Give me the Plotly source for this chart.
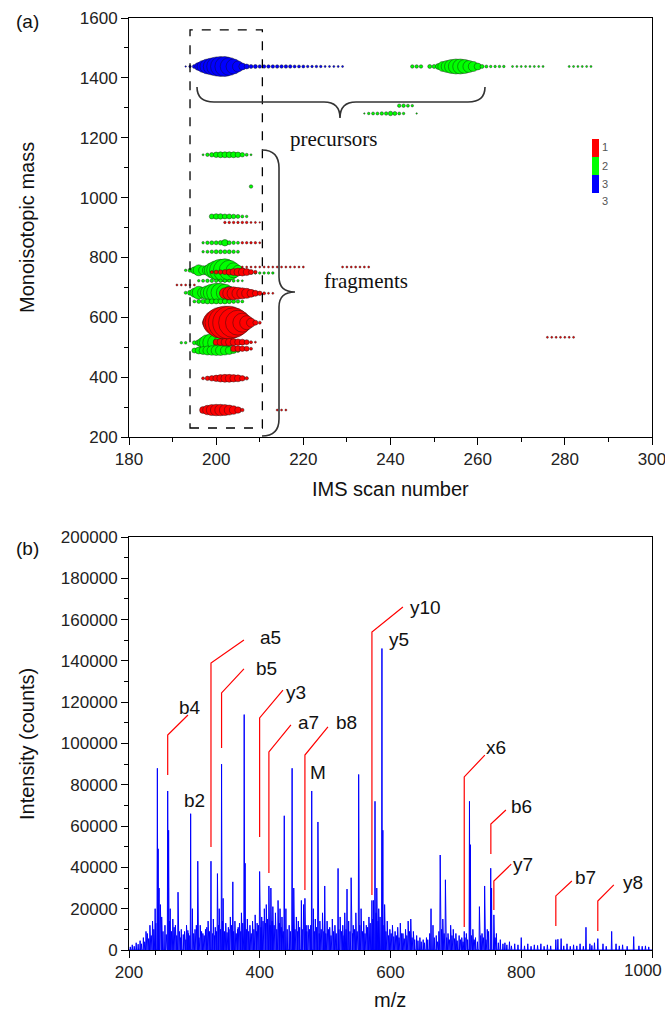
import plotly.graph_objects as go

W, H = 665, 1015

# ---------------- Panel (a): IMS bubble map ----------------
# each feature: monoisotopic mass, IMS scans, bubble diameters (px)
blue_1438_scan = [193, 194, 195, 196, 197, 198, 199, 200, 201, 202, 203, 204, 205, 206, 207, 208, 209, 210,
                  211, 212, 213, 214, 215, 216, 217, 218, 219, 220, 221, 222, 223, 224, 225, 226, 227, 228, 229]
blue_1438_size = [1.5, 2.5, 4, 8, 12, 15, 17, 19, 20, 20, 18, 15, 11, 7, 5, 4, 4, 3.5,
                  3.5, 3.5, 3.5, 3.5, 3.5, 3.5, 3.5, 3, 3, 3, 2.5, 2.5, 2.5, 2.5, 2, 2, 2, 2, 2]

green_1438_scan = [245, 246, 247, 249, 250, 251, 252, 253, 254, 255, 256, 257, 258, 259, 260, 261, 262, 263,
                   264, 265, 266, 268, 269, 270, 271, 272, 273, 274, 275, 281, 282, 283, 284, 285, 286]
green_1438_size = [3.5, 3.5, 3.5, 4, 4, 6, 10, 12, 14, 15, 15, 14, 12, 10, 7, 4, 3, 2.5,
                   2.5, 2.5, 2.5, 2, 2, 2, 2, 2, 2, 2, 2, 2, 2, 2, 2, 2, 2]
green_1307_scan = [242, 243, 244, 245]
green_1307_size = [3.5, 3.5, 3, 2.5]
green_1281_scan = [234, 235, 236, 237, 238, 239, 240, 241, 242, 243, 246]
green_1281_size = [1.5, 2.5, 3, 3, 3.5, 3.5, 4.5, 4, 3, 2.5, 1.5]
green_1143_scan = [197, 198, 199, 200, 201, 202, 203, 204, 205, 206, 207, 208]
green_1143_size = [2, 3.5, 4.5, 5.5, 6, 6, 6, 6, 5.5, 4.5, 3, 2]
green_1037_scan = [208]
green_1037_size = [3.5]
green_937_scan = [199, 200, 201, 202, 203, 204, 205, 206, 207]
green_937_size = [5, 5.5, 5.5, 5, 5, 4.5, 4, 3, 2.5]
green_849_scan = [197, 198, 199, 200, 201, 202, 203, 204, 205]
green_849_size = [2.5, 3.5, 4, 4, 4.5, 6.5, 4, 3.5, 3]
green_819_scan = [197, 198, 199, 200, 201, 202, 203, 204, 205]
green_819_size = [2.5, 3, 3.5, 4, 4, 4, 4, 3.5, 3]
green_757_scan = [193, 194, 195, 196, 197, 198, 199, 200, 201, 202, 203, 204, 205, 206, 207]
green_757_size = [2.5, 4, 7, 11, 9, 10, 15, 19, 22, 23, 20, 15, 10, 5, 3]
green_748_scan = [208, 209, 210, 211, 212, 213]
green_748_size = [2.5, 2.5, 2.5, 2.5, 2.5, 2.5]
green_722_scan = [196, 197, 198, 199, 200, 201, 202, 203, 204, 205, 206]
green_722_size = [2.5, 3, 3.5, 3.5, 3.5, 3.5, 3.5, 3, 3, 2.5, 2]
green_682_scan = [193, 194, 195, 196, 197, 198, 199, 200, 201, 202, 203, 204, 205]
green_682_size = [3, 5, 9, 13, 11, 14, 17, 19, 19, 17, 13, 8, 4]
green_653_scan = [195, 196, 197, 198, 199, 200, 201, 202, 203, 204, 205, 206]
green_653_size = [3, 4, 4.5, 5, 5, 5, 5, 5, 4.5, 4, 3.5, 3]
green_515_scan = [192, 193, 195, 196, 197, 198, 199, 200, 201, 202, 203, 204, 205]
green_515_size = [2.5, 2.5, 4, 6, 11, 16, 18, 17, 14, 11, 8, 5, 3]
green_489_scan = [195, 196, 197, 198, 199, 200, 201, 202, 203, 204, 205]
green_489_size = [5, 7, 8, 9, 9.5, 10, 10, 9, 8, 6, 4]

red_917_scan = [202, 203, 204, 205, 206, 207, 208, 209, 210]
red_917_size = [2.5, 2.5, 2.5, 2.5, 2.5, 2.5, 2, 2, 1.5]
red_849_scan = [206, 207, 208, 209, 210]
red_849_size = [2.5, 2.5, 2.5, 2.5, 2]
red_768_scan = [206, 207, 208, 209, 210, 211, 212, 213, 214, 215, 216, 217, 218, 219, 220,
                229, 230, 231, 232, 233, 234, 235]
red_768_size = [2, 2, 2, 2, 2, 2, 2, 2, 2, 2, 2, 2, 2, 2, 2, 2, 2, 2, 2, 2, 2, 2]
red_751_scan = [199, 200, 201, 202, 203, 204, 205, 206, 207, 208, 209]
red_751_size = [3, 4, 4.5, 5, 6, 7, 8, 8, 7, 5, 3.5]
red_708_scan = [191, 192, 193, 194, 195]
red_708_size = [2, 2, 2, 2, 2]
red_680_scan = [202, 203, 204, 205, 206, 207, 208, 209, 210, 211, 212, 213]
red_680_size = [11, 13, 13, 12, 11, 10, 8, 6, 4.5, 3, 2, 2]
red_582_scan = [198, 199, 200, 201, 202, 203, 204, 205, 206, 207, 208, 209, 210]
red_582_size = [10, 18, 26, 31, 33, 33, 30, 25, 19, 14, 9, 5, 3]
red_533_scan = [276, 277, 278, 279, 280, 281, 282]
red_533_size = [2, 2, 2, 2, 2, 2, 2]
red_517_scan = [200, 201, 202, 203, 204, 205, 206, 207, 208, 209]
red_517_size = [6, 7, 7.5, 7.5, 7, 6.5, 6, 5, 3, 2]
red_495_scan = [204, 205, 206, 207, 208]
red_495_size = [6, 6, 5.5, 5, 3]
red_396_scan = [197, 198, 199, 200, 201, 202, 203, 204, 205, 206, 207]
red_396_size = [3, 4.5, 5.5, 6.5, 7.5, 8, 8, 7.5, 7, 5.5, 3.5]
red_290_scan = [197, 198, 199, 200, 201, 202, 203, 204, 205, 206]
red_290_size = [7, 9.5, 11, 11.5, 11.5, 11, 10, 8.5, 6.5, 3.5]
red_290b_scan = [214, 215, 216]
red_290b_size = [2, 2, 2]

blue_rows = [(1438, blue_1438_scan, blue_1438_size)]
green_rows = [(1438, green_1438_scan, green_1438_size), (1307, green_1307_scan, green_1307_size),
              (1281, green_1281_scan, green_1281_size), (1143, green_1143_scan, green_1143_size),
              (1037, green_1037_scan, green_1037_size), (937, green_937_scan, green_937_size),
              (849, green_849_scan, green_849_size), (819, green_819_scan, green_819_size),
              (757, green_757_scan, green_757_size), (748, green_748_scan, green_748_size),
              (722, green_722_scan, green_722_size), (682, green_682_scan, green_682_size),
              (653, green_653_scan, green_653_size), (515, green_515_scan, green_515_size),
              (489, green_489_scan, green_489_size)]
red_rows = [(917, red_917_scan, red_917_size), (849, red_849_scan, red_849_size),
            (768, red_768_scan, red_768_size), (751, red_751_scan, red_751_size),
            (708, red_708_scan, red_708_size), (680, red_680_scan, red_680_size),
            (582, red_582_scan, red_582_size), (533, red_533_scan, red_533_size),
            (517, red_517_scan, red_517_size), (495, red_495_scan, red_495_size),
            (396, red_396_scan, red_396_size), (290, red_290_scan, red_290_size),
            (290, red_290b_scan, red_290b_size)]

# ---------------- Panel (b): mass spectrum ----------------
major_mz = [228, 232, 236, 240, 243.4, 244.6, 246, 250, 255, 259.2, 260.6, 263, 267, 271, 275, 280, 285, 288,
            291, 294.3, 297, 301, 305.2, 309, 313, 317, 321, 325.4, 329, 332, 335.3, 338, 341.6, 344, 348, 352,
            355, 358.8, 362, 366, 369, 372, 376.2, 377.6, 381, 385, 389, 393, 396, 399.8, 403, 407, 410, 414,
            417, 420, 424, 428, 431, 434, 437.5, 440, 445, 449.5, 452, 456, 459, 463.7, 467, 469.1, 474, 479.5,
            482, 485, 489, 492, 496, 499.4, 503, 507, 511, 515, 519.8, 523, 527, 530, 533.5, 536, 539.8, 543,
            547, 551.3, 555, 559, 563, 567, 571.6, 574, 576.3, 579, 582, 586.9, 588.3, 591, 595, 599, 603, 607,
            611, 615, 619, 623, 627, 631, 635, 640, 645, 650, 655, 662, 665, 670, 676, 680, 684, 688, 692, 696,
            700, 705, 709, 712.8, 716, 720.8, 722.2, 726, 730, 736, 740, 744, 748, 753.3, 754.6, 758.1, 762,
            768, 775, 782, 790, 800, 810, 820, 830, 840, 852.9, 856, 861, 870, 880, 890, 899, 905, 912, 917.1,
            925, 938.3, 945, 955, 972, 980, 990]
major_int = [8000, 12000, 14000, 20000, 88000, 49000, 30000, 16000, 12000, 77000, 58000, 20000, 15000, 12000,
             28000, 10000, 9000, 12000, 8000, 66000, 20000, 10000, 43000, 12000, 8000, 10000, 14000, 43000,
             15000, 11000, 37000, 20000, 90000, 25000, 13000, 11000, 16000, 33000, 14000, 10000, 13000, 18000,
             114000, 42000, 15000, 12000, 14000, 17000, 13000, 38000, 16000, 20000, 22000, 31000, 30000, 21000,
             18000, 24000, 20000, 16000, 65000, 20000, 12000, 88000, 30000, 16000, 14000, 24000, 22000, 25000,
             12000, 77000, 20000, 15000, 62000, 14000, 18000, 31000, 14000, 11000, 15000, 12000, 39500, 16000,
             12000, 18000, 29500, 14000, 35000, 12000, 18000, 85000, 20000, 14000, 12000, 16000, 24000, 24000,
             72000, 30000, 20000, 146000, 58000, 22000, 14000, 10000, 12000, 9000, 11000, 13000, 8000, 10000,
             14000, 15000, 9000, 7000, 6000, 5000, 6000, 20000, 12000, 7000, 46000, 15000, 34000, 8000, 12000,
             10000, 8000, 7000, 6000, 9000, 8000, 72000, 51000, 10000, 6000, 21000, 8000, 31000, 10000, 39600,
             30000, 17000, 8000, 5000, 3500, 4000, 3000, 6000, 3000, 2500, 3000, 2500, 5000, 5200, 5500, 3000,
             2500, 3000, 11000, 3000, 3500, 5500, 3000, 9000, 3000, 2500, 6500, 2000, 2000]
minor_mz = [202, 205, 208, 211, 214, 217, 219, 222, 224, 226, 230, 234, 238, 241, 248, 252, 257, 262, 265, 269,
            273, 277, 279, 283, 287, 290, 293, 299, 303, 307, 311, 315, 319, 323, 328, 331, 334, 337, 340, 343,
            346, 350, 353, 357, 360, 364, 367, 371, 374, 380, 383, 387, 391, 395, 398, 402, 405, 409, 412, 416,
            419, 422, 426, 430, 433, 436, 442, 447, 451, 454, 458, 461, 465, 471, 472, 476, 478, 484, 487, 491,
            494, 498, 501, 505, 509, 513, 517, 521, 525, 529, 532, 538, 542, 545, 549, 553, 557, 561, 565, 569,
            573, 578, 581, 584, 590, 593, 597, 601, 605, 609, 613, 617, 621, 625, 629, 633, 637, 642, 647, 652,
            657, 660, 667, 672, 674, 678, 682, 686, 690, 694, 698, 702, 707, 711, 714, 718, 724, 728, 733, 738,
            742, 746, 750, 760, 765, 772, 778, 785, 795, 805, 815, 825, 835, 845, 865, 875, 885, 895, 908, 930,
            950, 962, 985, 995]
minor_int = [1500, 2500, 1800, 3500, 2800, 4500, 3000, 6000, 4000, 9000, 5500, 7000, 10000, 13000, 22000, 9000,
             7500, 14000, 9000, 11000, 7000, 9000, 6000, 7500, 5000, 9500, 7000, 8000, 12000, 6000, 9000, 7000,
             11000, 9000, 8000, 7000, 9000, 12000, 10000, 14000, 9000, 8500, 10000, 12000, 9000, 8000, 11000,
             9000, 13000, 10000, 9000, 8000, 10000, 9000, 12000, 11000, 14000, 13000, 15000, 12000, 14000, 12000,
             10000, 13000, 11000, 9000, 10000, 9000, 12000, 10000, 9000, 11000, 10000, 12000, 9000, 10000, 12000,
             9000, 11000, 8000, 10000, 9000, 8000, 10000, 7000, 9000, 8000, 10000, 9000, 7000, 10000, 9000, 8000,
             10000, 9000, 12000, 9000, 8000, 11000, 13000, 15000, 18000, 14000, 16000, 12000, 9000, 7000, 8000,
             6500, 7000, 6000, 8000, 5500, 7000, 9000, 6000, 5000, 4500, 4000, 3500, 5000, 8000, 6000, 4000, 9000,
             10000, 8000, 6000, 5000, 7000, 5500, 4500, 5000, 4000, 6000, 5000, 7000, 5000, 4000, 7000, 6000,
             5000, 9000, 6000, 3500, 3000, 2500, 2000, 2500, 2000, 1800, 2200, 1800, 2000, 2000, 1800, 2000, 1800,
             2200, 1800, 2000, 1800, 1800, 1500]

# fragment-ion labels (text position) and leader lines
label_text = ["b4", "a5", "b5", "y3", "a7", "b8", "y10", "y5", "M", "b2", "x6", "b6", "y7", "b7", "y8"]
label_mz = [293, 416, 410, 455, 474, 532, 654, 613, 489, 300, 762, 801, 802, 899, 971]
label_int = [117200, 151100, 136100, 124500, 110000, 110000, 166100, 150600, 86200, 72600, 98300, 69700,
             41600, 34900, 32900]
leader_peak_mz = [259.2, 325.4, 341.6, 399.8, 414, 469.1, 571.6, 712.8, 753.5, 758.1, 852.9, 917.1]
leader_low = [84800, 49900, 97800, 54700, 37300, 29100, 26600, 11100, 46500, 19400, 11600, 9200]
leader_bend = [104100, 139000, 124500, 112400, 95900, 94400, 154000, 83800, 61000, 33400, 26200, 23700]
leader_end_mz = [290.2, 375.8, 375.8, 435.5, 447.7, 504.3, 619, 744.3, 776.5, 784.7, 877.4, 941.6]
leader_end_int = [113800, 150100, 136100, 125900, 109000, 108000, 166100, 94400, 67800, 41600, 33400, 31500]

# axis tick labels of panel (b) x axis
mz_tickvals = [200, 400, 600, 800, 1000]
mz_ticktext = ["200", "400", "600", "800", "1000"]

# ---------------- build figure ----------------
def fx(px):
    return px / W


def fy(py):
    return 1 - py / H


fig = go.Figure()


def collect(rows):
    xs, ys, ss = [], [], []
    for mass, scans, sizes in rows:
        for s, d in zip(scans, sizes):
            xs.append(s)
            ys.append(mass)
            ss.append(d)
    return xs, ys, ss


for rows, col in [(green_rows, "#00ff00"), (red_rows, "#ff0000"), (blue_rows, "#0000ff")]:
    xs, ys, ss = collect(rows)
    fig.add_trace(go.Scatter(x=xs, y=ys, mode="markers", xaxis="x", yaxis="y", hoverinfo="skip",
                             marker=dict(size=ss, color=col, opacity=1,
                                         line=dict(width=0.5, color="rgba(20,20,20,0.85)"))))

# spectrum profile
peaks = sorted(zip(major_mz + minor_mz, major_int + minor_int))
sx, sy = [200], [0]
for m, h in peaks:
    sx += [m - 0.6, m, m + 0.6]
    sy += [0, h, 0]
sx.append(1000)
sy.append(0)
fig.add_trace(go.Scatter(x=sx, y=sy, mode="lines", xaxis="x2", yaxis="y2", hoverinfo="skip",
                         line=dict(color="#0000ff", width=1)))

# leader lines
lx, ly = [], []
for pm, lo, bd, em, ei in zip(leader_peak_mz, leader_low, leader_bend, leader_end_mz, leader_end_int):
    lx += [pm, pm, em, None]
    ly += [lo, bd, ei, None]
fig.add_trace(go.Scatter(x=lx, y=ly, mode="lines", xaxis="x2", yaxis="y2", hoverinfo="skip",
                         line=dict(color="#ff0000", width=1.2)))

font_ax = dict(family="Liberation Sans, Arial, sans-serif", size=17, color="#222222")
common = dict(showgrid=False, zeroline=False, showline=True, linecolor="black", linewidth=1, mirror=True,
              ticks="outside", ticklen=7, tickwidth=1, tickcolor="black", tickfont=font_ax, automargin=False,
              ticklabeloverflow="allow")

# last x label of panel (b) is drawn right-aligned at the page edge so it is not clipped
mz_ticktext_axis = mz_ticktext[:-1] + [""]

fig.update_layout(
    width=W, height=H, margin=dict(l=0, r=0, t=0, b=0, autoexpand=False),
    paper_bgcolor="white", plot_bgcolor="white", showlegend=False,
    xaxis=dict(domain=[fx(129), fx(652)], anchor="y", range=[180, 300], tickmode="linear", tick0=180, dtick=20,
               minor=dict(dtick=10, ticks="outside", ticklen=4, tickcolor="black"), **common),
    yaxis=dict(domain=[fy(437), fy(18)], anchor="x", range=[200, 1600], tickmode="linear", tick0=200, dtick=200,
               minor=dict(dtick=100, ticks="outside", ticklen=4, tickcolor="black"), **common),
    xaxis2=dict(domain=[fx(129), fx(652)], anchor="y2", range=[200, 1000], tickmode="array",
                tickvals=mz_tickvals, ticktext=mz_ticktext_axis,
                minor=dict(dtick=40, tick0=200, ticks="outside", ticklen=4, tickcolor="black"),
                layer="below traces", **common),
    yaxis2=dict(domain=[fy(950), fy(537)], anchor="x2", range=[0, 200000], tickmode="linear", tick0=0,
                dtick=20000, tickformat="d",
                minor=dict(dtick=10000, ticks="outside", ticklen=4, tickcolor="black"), **common),
)

shapes = []
# dashed selection box (data coordinates of panel a)
shapes.append(dict(type="rect", xref="x", yref="y", x0=194, x1=210.6, y0=230, y1=1560,
                   line=dict(color="black", width=1.3, dash="dash")))


def ppath(cmds):
    out = []
    for c in cmds:
        if isinstance(c, str):
            out.append(c)
        else:
            out.append(f"{fx(c[0]):.5f},{fy(c[1]):.5f}")
    return " ".join(out)


brace_col = dict(color="#333333", width=1.6)
shapes.append(dict(type="path", xref="paper", yref="paper", line=brace_col, path=ppath(
    ["M", (197, 87), "Q", (197, 102), (214, 102), "L", (324, 102), "Q", (340, 102), (340, 118),
     "Q", (340, 102), (356, 102), "L", (468, 102), "Q", (485, 102), (485, 87)])))
shapes.append(dict(type="path", xref="paper", yref="paper", line=brace_col, path=ppath(
    ["M", (262, 150), "Q", (279, 150), (279, 168), "L", (279, 277), "Q", (279, 292), (295, 292),
     "Q", (279, 292), (279, 307), "L", (279, 419), "Q", (279, 436), (262, 436)])))
# colour key
for (y0, y1), col in zip([(139, 157), (157, 175), (175, 193)], ["#ff0000", "#00ff00", "#0000ff"]):
    shapes.append(dict(type="rect", xref="paper", yref="paper", x0=fx(592), x1=fx(599), y0=fy(y1), y1=fy(y0),
                       line=dict(width=0), fillcolor=col))
fig.update_layout(shapes=shapes)

ann = []
sans = "Liberation Sans, Arial, sans-serif"
serif = "Liberation Serif, Times New Roman, serif"


def pa(text, x, y, size, angle=0, family=sans, color="#111111", xanchor="center"):
    ann.append(dict(text=text, x=fx(x), y=fy(y), xref="paper", yref="paper", showarrow=False,
                    textangle=angle, xanchor=xanchor, yanchor="middle",
                    font=dict(family=family, size=size, color=color)))


pa("(a)", 27, 21, 19)
pa("(b)", 27, 548, 19)
pa("Monoisotopic mass", 27, 228, 20, angle=-90)
pa("IMS scan number", 390, 489, 20)
pa("Intensity (counts)", 27, 744, 20, angle=-90)
pa("m/z", 390, 1000, 20)
pa("precursors", 333, 139, 21, family=serif)
pa("fragments", 366, 281, 21, family=serif)
for t, yy in zip(["1", "2", "3", "3"], [147, 166, 184, 201]):
    pa(t, 605, yy, 11, color="#555555")
pa(mz_ticktext[-1], 664, 970, 17, color="#222222", xanchor="right")

for t, m, i in zip(label_text, label_mz, label_int):
    ann.append(dict(text=t, x=m, y=i, xref="x2", yref="y2", showarrow=False, xanchor="center",
                    yanchor="middle", font=dict(family=sans, size=19, color="#111111")))
fig.update_layout(annotations=ann)

fig.write_html("out.html")
